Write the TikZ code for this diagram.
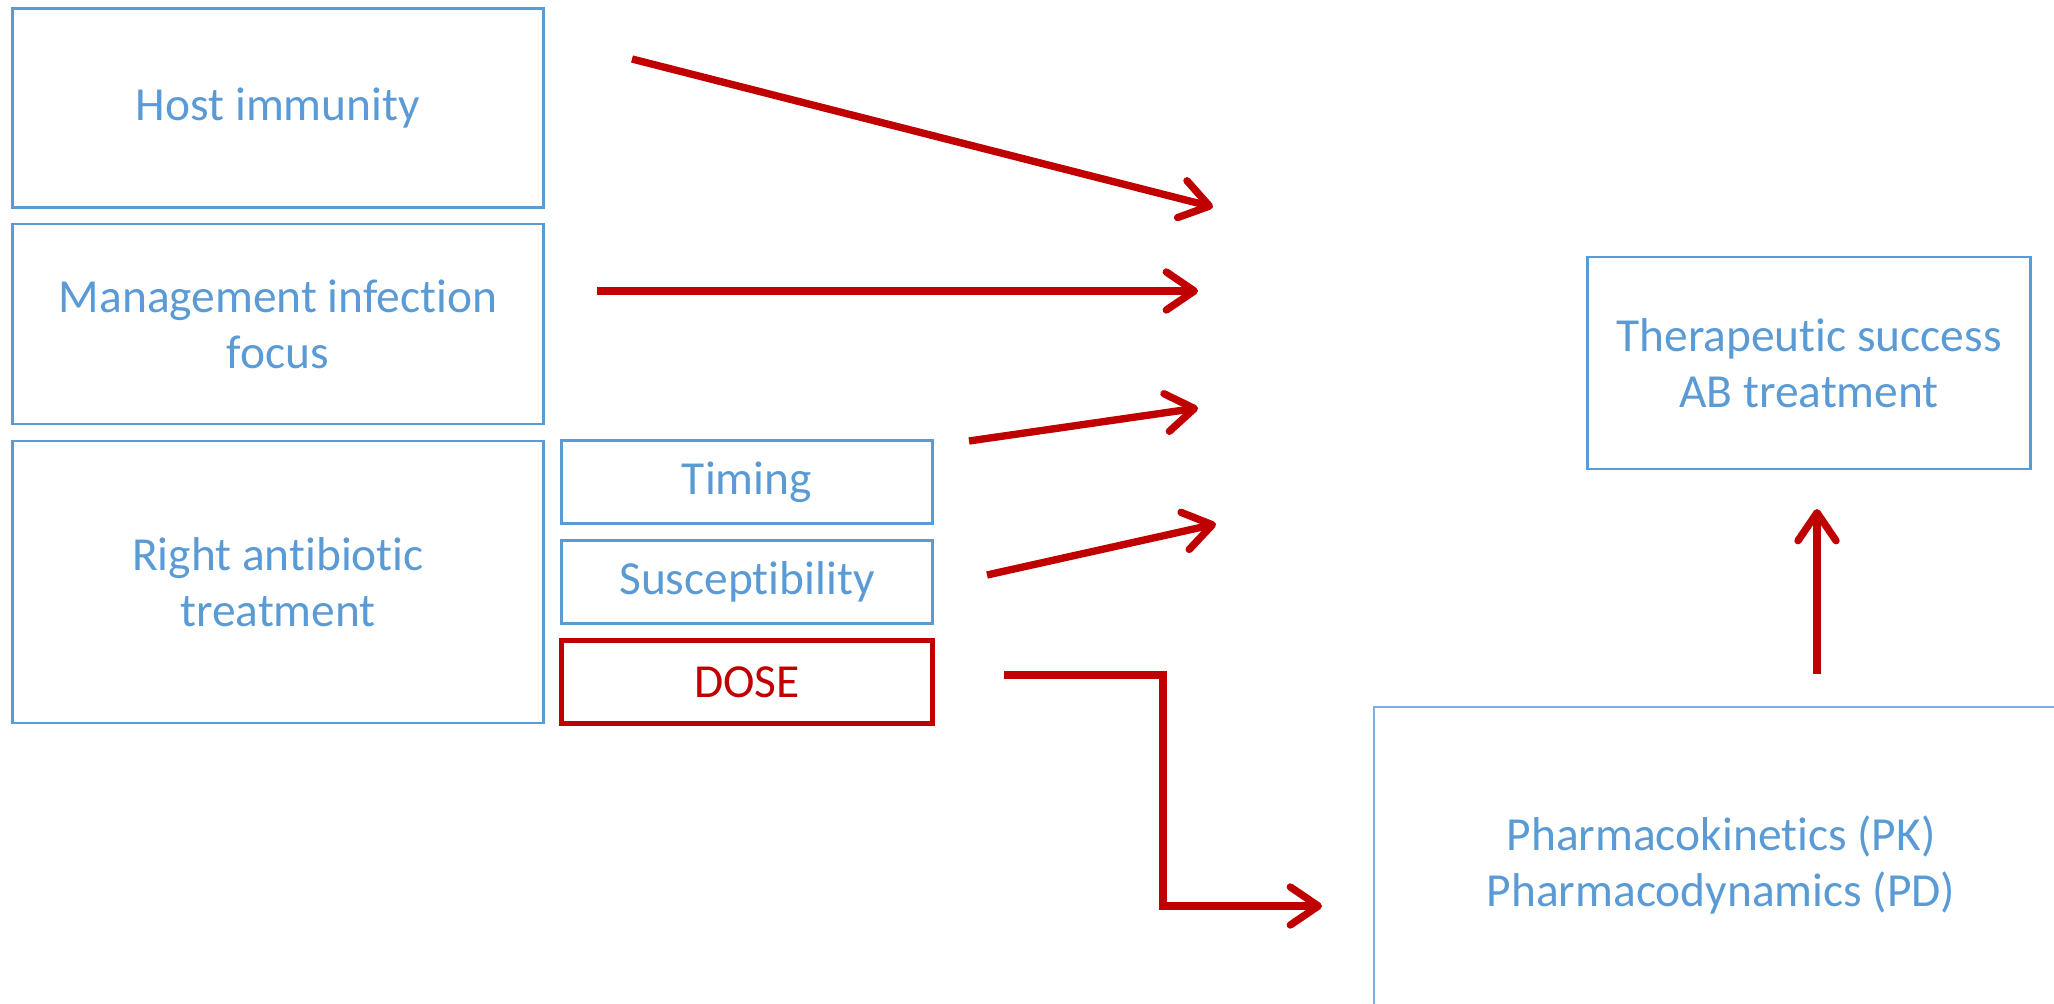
\documentclass[tikz,border=0pt]{standalone}
\usepackage{fontspec}
\setmainfont{Carlito}[Ligatures={NoCommon,NoRare}, Contextuals=NoAlternate]
\usepackage{xcolor}
\usepackage{tikz}
\usetikzlibrary{arrows.meta, positioning, calc}
\definecolor{abblue}{RGB}{91,155,213}
\definecolor{abred}{RGB}{192,0,0}
\tikzstyle{factor} = [rectangle, draw=abblue, line width=0.8pt, text=abblue, align=center, font=\fontsize{13.5}{16}\selectfont]
\tikzstyle{arrow} = [draw=abred, line width=2.1pt, -{Straight Barb[length=2.8mm, width=3.8mm, round]}]

\begin{document}
\begin{tikzpicture}[
    x=0.1mm, y=-0.1mm,
    bigbox/.style={factor, minimum width=53.1mm},
    subbox/.style={factor, minimum width=37.1mm, minimum height=8.3mm},
    dosebox/.style={subbox, draw=abred, text=abred, line width=1.5pt},
    outbox/.style={factor, minimum width=44.3mm, minimum height=21.2mm},
    pkbox/.style={factor, draw=abblue!80, line width=0.4pt, minimum width=69.4mm, minimum height=31.6mm}
]
\useasboundingbox (0,0) rectangle (2054,1004);
\clip (0,0) rectangle (2054,1004);

% Factors
\node[bigbox, minimum height=19.9mm] (host) at (278,108) {Host immunity};
\node[bigbox, minimum height=20.0mm] (focus) at (278,324) {Management infection\\focus};
\node[bigbox, minimum height=28.2mm] (right) at (278,582) {Right antibiotic\\treatment};

\node[subbox] (timing) at (747,482) {Timing};
\node[subbox] (suscept) at (747,582) {Susceptibility};
\node[dosebox] (dose) at (747,682) {DOSE};

% Outcome
\node[outbox] (success) at (1809,363) {Therapeutic success\\AB treatment};
\node[pkbox] (pk) at (1721,865) {Pharmacokinetics (PK)\\Pharmacodynamics (PD)};

% Arrow ends
\coordinate (hostS) at (632,59);
\coordinate (hostE) at (1213,207);
\coordinate (focusS) at (597,291);
\coordinate (focusE) at (1198,291);
\coordinate (timingS) at (969,441);
\coordinate (timingE) at (1198,408);
\coordinate (susceptS) at (987,575);
\coordinate (susceptE) at (1216,524);
\coordinate (doseS) at (1004,675);
\coordinate (doseE) at (1322,906);
\coordinate (pkS) at (1817,674);
\coordinate (pkE) at (1817,509);

% Arrows
\draw[arrow] (hostS) -- (hostE);
\draw[arrow] (focusS) -- (focusE);
\draw[arrow] (timingS) -- (timingE);
\draw[arrow] (susceptS) -- (susceptE);
\draw[arrow] (doseS) -| (1163,906) -- (doseE);
\draw[arrow] (pkS) -- (pkE);

\end{tikzpicture}
\end{document}
